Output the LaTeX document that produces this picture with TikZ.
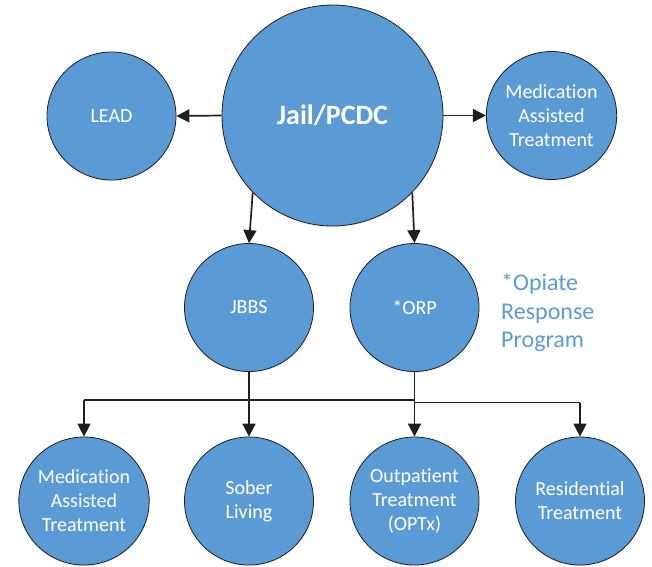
\documentclass[tikz,border=0pt]{standalone}
\usepackage{fontspec}
\setmainfont{Carlito}[Ligatures={NoCommon,NoContextual}]
\usetikzlibrary{arrows.meta,shapes.geometric,shadows}
\definecolor{nodeblue}{HTML}{5B9BD5}
\definecolor{edgedark}{HTML}{1F1F1F}
\tikzset{
  bubble/.style={ellipse, draw=edgedark, line width=0.8pt, fill=nodeblue, text=white,
    minimum width=129pt, minimum height=128pt, inner sep=0pt, align=center,
    font=\fontsize{20}{24}\selectfont,
    drop shadow={opacity=0.12, shadow xshift=0pt, shadow yshift=-1.5pt}},
  bigbubble/.style={bubble, minimum width=221pt, minimum height=221pt,
    font=\fontsize{28}{32}\selectfont\bfseries},
  link/.style={draw=edgedark, line width=1.7pt, -{Triangle[length=13pt,width=13pt]}},
  plain/.style={draw=edgedark, line width=1.7pt},
}
\begin{document}
\begin{tikzpicture}[x=1pt,y=-1pt]
\useasboundingbox (0,0) rectangle (652,566);
\node[bigbubble] (jail) at (332.5,115.5) {Jail/PCDC};
\node[bubble] (lead) at (111.5,116) {LEAD};
\node[bubble] (matA) at (551.5,115.5) {Medication\\Assisted\\Treatment};
\node[bubble] (jbbs) at (249,307.5) {JBBS};
\node[bubble] (orp) at (414.5,307.5) {*ORP};
\node[bubble] (matB) at (84,501) {Medication\\Assisted\\Treatment};
\node[bubble] (sober) at (249,501) {Sober\\Living};
\node[bubble] (outp) at (414.5,501) {Outpatient\\Treatment\\(OPTx)};
\node[bubble] (resid) at (580,501) {Residential\\Treatment};
\node[anchor=west, align=left, text=nodeblue, font=\fontsize{24}{28.5}\selectfont, inner sep=0pt] (note) at (501,313) {*Opiate\\Response\\Program};
\coordinate (jl) at (84,400);
\coordinate (jr) at (414.5,400);
\coordinate (orr) at (580,402.5);
\draw[link] (jail.west) -- (lead.east);
\draw[link] (jail.east) -- (matA.west);
\draw[link] (jail.224) -- (jbbs.north);
\draw[link] (jail.316) -- (orp.north);
\draw[plain] (jbbs.south) -- (jbbs.south |- jl);
\draw[plain] (jl) -- (jr);
\draw[link] (jl) -- (matB.north);
\draw[link] (jbbs.south |- jl) -- (sober.north);
\draw[link] (orp.south) -- (outp.north);
\draw[plain] (orp.south |- orr) -- (orr);
\draw[link] (orr) -- (resid.north);
\end{tikzpicture}
\end{document}
